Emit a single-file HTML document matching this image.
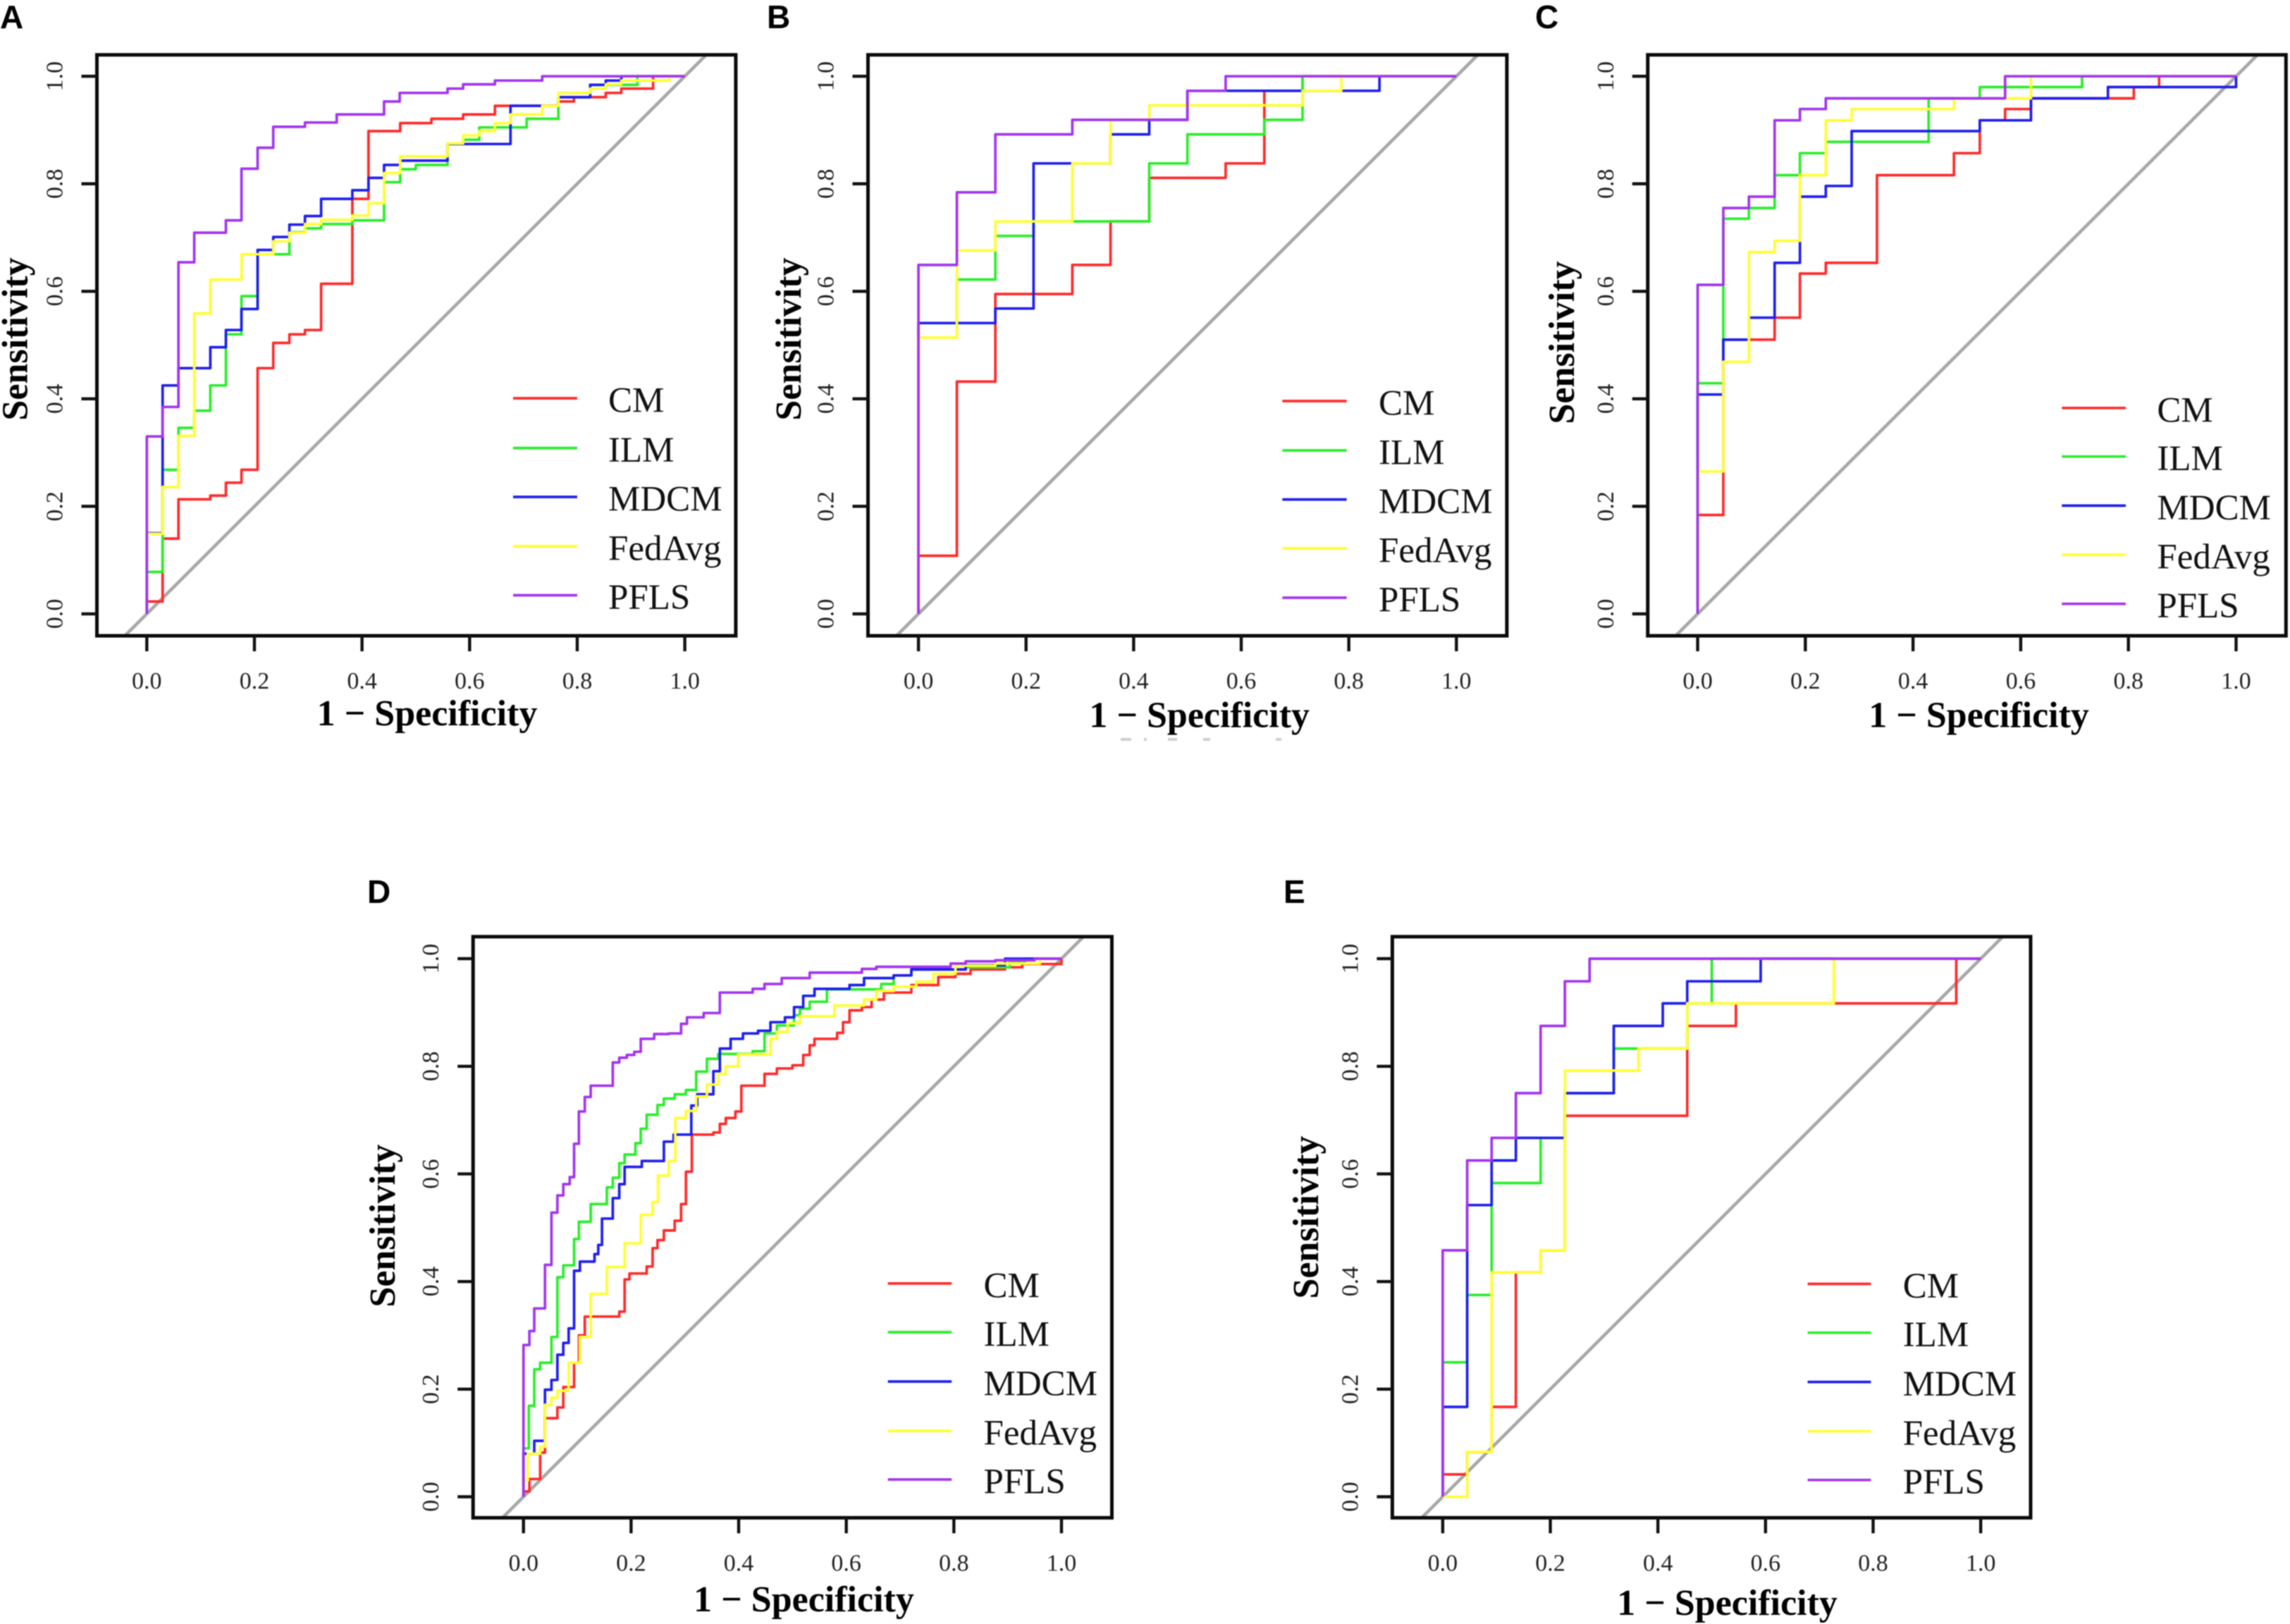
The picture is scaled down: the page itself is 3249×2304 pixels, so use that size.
<!DOCTYPE html>
<html lang="en">
<head>
<meta charset="utf-8">
<title>ROC curves for CM, ILM, MDCM, FedAvg and PFLS</title>
<style>
  html, body { margin: 0; padding: 0; background: #fff; }
  #figure { display: block; width: 3249px; height: 2304px; filter: blur(0.8px); }
</style>
</head>
<body>
<svg id="figure" xmlns="http://www.w3.org/2000/svg" width="3249" height="2304" viewBox="0 0 3249 2304"></svg>
<script>
// ---------- shared labels ----------
const seriesNames = ["CM", "ILM", "MDCM", "FedAvg", "PFLS"];
const tickValues = [0, 0.2, 0.4, 0.6, 0.8, 1];
const tickLabels = ["0.0", "0.2", "0.4", "0.6", "0.8", "1.0"];

// ---------- panel A: false positive rate at each rise, sensitivity after the rise ----------
const A_CM_fpr = [0,.0294,.0588,.118,.147,.176,.206,.235,.265,.294,.324,.382,.412,.471,.529,.588,.647,.765,.794,.853,.882,.941];
const A_CM_tpr = [.023,.14,.213,.22,.244,.268,.457,.504,.52,.528,.614,.772,.898,.913,.921,.929,.945,.953,.961,.969,.977,1];
const A_ILM_fpr = [0,.0294,.0588,.0882,.118,.147,.176,.206,.265,.294,.324,.382,.441,.471,.5,.559,.588,.618,.706,.765,.824,.912];
const A_ILM_tpr = [.078,.268,.346,.378,.425,.52,.591,.669,.71,.717,.725,.732,.803,.827,.835,.874,.882,.905,.921,.961,.984,1];
const A_MDCM_fpr = [0,.0294,.0588,.118,.147,.176,.206,.235,.265,.294,.324,.382,.412,.441,.471,.559,.676,.765,.824,.853,.882];
const A_MDCM_tpr = [.15,.425,.457,.496,.528,.567,.677,.701,.724,.74,.772,.788,.811,.835,.843,.874,.945,.961,.984,.992,1];
const A_FedAvg_fpr = [0,.0294,.0588,.0882,.118,.176,.235,.265,.294,.324,.382,.412,.441,.471,.559,.588,.618,.647,.676,.735,.765,.824,.853,.882,.971];
const A_FedAvg_tpr = [.149,.236,.331,.559,.622,.669,.693,.709,.725,.733,.741,.764,.82,.851,.875,.89,.898,.913,.929,.945,.969,.977,.985,.992,1];
const A_PFLS_fpr = [0,.0294,.0588,.0882,.147,.176,.206,.235,.294,.353,.441,.47,.559,.588,.647,.735];
const A_PFLS_tpr = [.33,.385,.654,.709,.732,.828,.867,.906,.914,.929,.953,.969,.977,.985,.992,1];

// ---------- panel B ----------
const B_CM_fpr = [0,.0714,.143,.286,.357,.429,.571,.643,.714];
const B_CM_tpr = [.108,.432,.595,.649,.73,.811,.838,.973,1];
const B_ILM_fpr = [0,.0714,.143,.214,.429,.5,.643,.714];
const B_ILM_tpr = [.541,.622,.703,.73,.838,.892,.919,1];
const B_MDCM_fpr = [0,.143,.214,.357,.429,.5,.857];
const B_MDCM_tpr = [.541,.568,.838,.892,.919,.973,1];
const B_FedAvg_fpr = [0,.0714,.143,.286,.357,.429,.714,.786];
const B_FedAvg_tpr = [.514,.676,.73,.838,.919,.946,.973,1];
const B_PFLS_fpr = [0,.0714,.143,.286,.5,.571];
const B_PFLS_tpr = [.649,.784,.892,.919,.973,1];

// ---------- panel C ----------
const C_CM_fpr = [0,.0476,.143,.19,.238,.333,.476,.524,.571,.619,.81,.857];
const C_CM_tpr = [.184,.51,.551,.633,.653,.816,.857,.918,.939,.959,.98,1];
const C_ILM_fpr = [0,.0476,.0952,.143,.19,.238,.429,.524,.714];
const C_ILM_tpr = [.429,.735,.755,.816,.857,.878,.959,.98,1];
const C_MDCM_fpr = [0,.0476,.0952,.143,.19,.238,.286,.524,.619,.762,1];
const C_MDCM_tpr = [.408,.51,.551,.653,.776,.796,.898,.918,.959,.98,1];
const C_FedAvg_fpr = [0,.0476,.0952,.143,.19,.238,.286,.476,.619];
const C_FedAvg_tpr = [.265,.469,.673,.694,.816,.918,.939,.959,1];
const C_PFLS_fpr = [0,.0476,.0952,.143,.19,.238,.571];
const C_PFLS_tpr = [.612,.755,.776,.918,.939,.959,1];

// ---------- panel D ----------
const D_CM_fpr = [0,.011,.031,.04,.063,.074,.094,.103,.114,.178,.188,.197,.229,.24,.249,.261,.281,.293,.302,.313,.353,.365,.376,.394,.405,.448,.471,.5,.52,.532,.541,.583,.594,.606,.629,.647,.67,.721,.771,.803,.831,.895,.927,1];
const D_CM_tpr = [.01,.033,.082,.146,.166,.204,.249,.3,.335,.344,.404,.415,.428,.462,.477,.495,.513,.544,.604,.673,.677,.693,.704,.716,.764,.786,.796,.802,.821,.839,.851,.862,.882,.904,.91,.924,.937,.951,.966,.972,.98,.984,.99,1];
const D_ILM_fpr = [0,.01,.02,.031,.052,.063,.074,.094,.103,.125,.155,.166,.178,.188,.208,.218,.229,.249,.261,.281,.302,.321,.341,.362,.426,.448,.471,.503,.514,.532,.564,.665,.688,.721,.822,.904,.932];
const D_ILM_tpr = [.09,.169,.237,.249,.297,.408,.43,.479,.511,.544,.575,.593,.62,.636,.657,.684,.71,.728,.74,.748,.756,.79,.814,.823,.828,.861,.876,.895,.907,.92,.943,.953,.969,.98,.984,.993,1];
const D_MDCM_fpr = [0,.02,.04,.052,.063,.074,.084,.094,.105,.132,.139,.146,.166,.178,.188,.22,.261,.279,.312,.323,.353,.365,.385,.408,.436,.459,.486,.503,.52,.541,.606,.633,.688,.721,.822,.895];
const D_MDCM_tpr = [.08,.104,.199,.217,.264,.286,.313,.42,.437,.451,.468,.517,.555,.581,.613,.624,.66,.673,.727,.748,.791,.833,.851,.861,.866,.882,.891,.91,.931,.944,.951,.964,.969,.98,.988,1];
const D_FedAvg_fpr = [0,.008,.031,.04,.052,.063,.084,.105,.125,.155,.188,.218,.24,.25,.27,.282,.302,.321,.341,.362,.376,.399,.459,.471,.491,.514,.578,.633,.656,.688,.73,.762,.803,.877,.96];
const D_FedAvg_tpr = [.03,.08,.093,.171,.184,.197,.249,.297,.377,.427,.471,.524,.548,.597,.624,.704,.717,.744,.766,.786,.8,.822,.851,.864,.88,.893,.913,.924,.94,.948,.957,.972,.987,.991,1];
const D_PFLS_fpr = [0,.011,.02,.04,.052,.063,.074,.086,.094,.103,.114,.125,.166,.178,.192,.206,.218,.243,.27,.293,.304,.335,.365,.426,.448,.48,.532,.629,.656,.794,.822,.877,.95];
const D_PFLS_tpr = [.282,.308,.35,.431,.528,.56,.581,.594,.656,.716,.743,.764,.807,.816,.821,.827,.851,.86,.861,.879,.891,.899,.937,.944,.953,.964,.974,.981,.985,.991,.995,.997,1];

// ---------- panel E ----------
const E_CM_fpr = [0,.0455,.0909,.136,.182,.227,.4545,.545,.9545];
const E_CM_tpr = [.0417,.0833,.167,.417,.458,.708,.875,.917,1];
const E_ILM_fpr = [0,.0455,.0909,.182,.227,.318,.4545,.5];
const E_ILM_tpr = [.25,.375,.583,.667,.75,.833,.917,1];
const E_MDCM_fpr = [0,.0455,.0909,.136,.227,.318,.409,.4545,.591];
const E_MDCM_tpr = [.167,.542,.625,.667,.75,.875,.917,.958,1];
const E_FedAvg_fpr = [0,.0455,.0909,.182,.227,.364,.4545,.727];
const E_FedAvg_tpr = [0,.0833,.417,.458,.792,.833,.917,1];
const E_PFLS_fpr = [0,.0455,.0909,.136,.182,.227,.273];
const E_PFLS_tpr = [.458,.625,.667,.75,.875,.958,1];

const curveData = {
  A: [[A_CM_fpr,A_CM_tpr],[A_ILM_fpr,A_ILM_tpr],[A_MDCM_fpr,A_MDCM_tpr],[A_FedAvg_fpr,A_FedAvg_tpr],[A_PFLS_fpr,A_PFLS_tpr]],
  B: [[B_CM_fpr,B_CM_tpr],[B_ILM_fpr,B_ILM_tpr],[B_MDCM_fpr,B_MDCM_tpr],[B_FedAvg_fpr,B_FedAvg_tpr],[B_PFLS_fpr,B_PFLS_tpr]],
  C: [[C_CM_fpr,C_CM_tpr],[C_ILM_fpr,C_ILM_tpr],[C_MDCM_fpr,C_MDCM_tpr],[C_FedAvg_fpr,C_FedAvg_tpr],[C_PFLS_fpr,C_PFLS_tpr]],
  D: [[D_CM_fpr,D_CM_tpr],[D_ILM_fpr,D_ILM_tpr],[D_MDCM_fpr,D_MDCM_tpr],[D_FedAvg_fpr,D_FedAvg_tpr],[D_PFLS_fpr,D_PFLS_tpr]],
  E: [[E_CM_fpr,E_CM_tpr],[E_ILM_fpr,E_ILM_tpr],[E_MDCM_fpr,E_MDCM_tpr],[E_FedAvg_fpr,E_FedAvg_tpr],[E_PFLS_fpr,E_PFLS_tpr]]
};

// ---------- layout and styling ----------
const seriesColors = ["#ff2b2b", "#2bee2b", "#1f1fee", "#ffff33", "#a335f0"];
const panelLayouts = [
  {id:"A", x0:208.3,  x1:971.6,  y0:870.9,  y1:108.2,  L:137.5,  R:1043.9, T:77.8,   B:902,    letterX:0,    letterY:40,   titleX:606,    titleY:1029, sensX:38.3, sensY:481,
   legX0:728,  legX1:819,  legText:863,  legY:[565,635.6,705,775,844.5]},
  {id:"B", x0:1303.1, x1:2066.3, y0:870.9,  y1:108.2,  L:1231.5, R:2137.9, T:77.8,   B:902,    letterX:1088, letterY:40,   titleX:1701.7, titleY:1031.7, sensX:1136, sensY:481,
   legX0:1819.4, legX1:1910.6, legText:1956, legY:[569,639,708.6,778,848]},
  {id:"C", x0:2408.6, x1:3172.5, y0:870.9,  y1:108.2,  L:2337.8, R:3243.3, T:77.8,   B:902,    letterX:2178, letterY:40,   titleX:2807.6, titleY:1031.7, sensX:2233, sensY:486,
   legX0:2925.3, legX1:3016, legText:3060.4, legY:[578.8,647.7,717.4,787,856.7]},
  {id:"D", x0:742.7,  x1:1506,   y0:2123.5, y1:1360.1, L:671.2,  R:1577.5, T:1328.9, B:2153.3, letterX:521,  letterY:1281, titleX:1140.5, titleY:2286, sensX:560,  sensY:1739,
   legX0:1259.7, legX1:1350.2, legText:1395.5, legY:[1820.9,1890,1960,2030,2099]},
  {id:"E", x0:2046.9, x1:2810.2, y0:2123.5, y1:1360.1, L:1975.4, R:2881,   T:1328.9, B:2153.3, letterX:1821, letterY:1281, titleX:2450.6, titleY:2291, sensX:1870, sensY:1727,
   legX0:2564.6, legX1:2654.4, legText:2699.7, legY:[1821.5,1890.7,1960.6,2030.5,2099.7]}
];

const SVG_NS = "http://www.w3.org/2000/svg";
const SERIF = '"Liberation Serif", serif';
const SANS = '"Liberation Sans", sans-serif';
const figure = document.getElementById("figure");

function make(parent, tag, attrs, text) {
  const el = document.createElementNS(SVG_NS, tag);
  for (const k in attrs) el.setAttribute(k, attrs[k]);
  if (text !== undefined) el.textContent = text;
  parent.appendChild(el);
  return el;
}

function drawPanel(p) {
  const xScale = v => p.x0 + (p.x1 - p.x0) * v;
  const yScale = v => p.y0 + (p.y1 - p.y0) * v;

  const panel = make(figure, "g", {});
  
  

  const letter = make(panel, "text", {x:p.letterX, y:p.letterY, "font-family":SANS, "font-weight":"bold", "font-size":46, fill:"#000"}, p.id);
  
  

  const clipId = "clip-" + p.id;
  const defs = make(panel, "defs", {});
  const clip = make(defs, "clipPath", {id:clipId});
  make(clip, "rect", {x:p.L, y:p.T, width:p.R - p.L, height:p.B - p.T});

  const diagonal = make(panel, "line", {x1:xScale(-0.04), y1:yScale(-0.04), x2:xScale(1.04), y2:yScale(1.04), stroke:"#a8a8a8", "stroke-width":4.6, "clip-path":"url(#" + clipId + ")"});
  
  

  curveData[p.id].forEach((pair, s) => {
    const fpr = pair[0];
    const tpr = pair[1];
    let d = "M" + xScale(0).toFixed(1) + " " + yScale(0).toFixed(1);
    for (let i = 0; i < fpr.length; i++) {
      d += "H" + xScale(fpr[i]).toFixed(1) + "V" + yScale(tpr[i]).toFixed(1);
    }
    d += "H" + xScale(1).toFixed(1);
    const curve = make(panel, "path", {d:d, fill:"none", stroke:seriesColors[s], "stroke-width":3.7, "stroke-linejoin":"round"});
    
    
  });

  const box = make(panel, "rect", {x:p.L, y:p.T, width:p.R - p.L, height:p.B - p.T, fill:"none", stroke:"#0a0a0a", "stroke-width":5});
  
  

  tickValues.forEach((v, i) => {
    const xt = xScale(v);
    const yt = yScale(v);
    const xTick = make(panel, "line", {x1:xt, y1:p.B, x2:xt, y2:p.B + 22, stroke:"#111", "stroke-width":4.4});
    
    
    const xLabel = make(panel, "text", {x:xt, y:p.B + 75, "text-anchor":"middle", "font-family":SERIF, "font-size":34, fill:"#222"}, tickLabels[i]);
    
    
    const yTick = make(panel, "line", {x1:p.L - 22, y1:yt, x2:p.L, y2:yt, stroke:"#111", "stroke-width":4.4});
    
    
    const yLx = p.L - 49;
    const yLabel = make(panel, "text", {x:yLx, y:yt, "text-anchor":"middle", "font-family":SERIF, "font-size":34, fill:"#222", transform:"rotate(-90 " + yLx + " " + yt + ")"}, tickLabels[i]);
    
    
  });

  const xTitle = make(panel, "text", {x:p.titleX, y:p.titleY, "text-anchor":"middle", "font-family":SERIF, "font-weight":"bold", "font-size":52, fill:"#000"}, "1 \u2212 Specificity");
  
  
  const yTitle = make(panel, "text", {x:p.sensX, y:p.sensY, "text-anchor":"middle", "font-family":SERIF, "font-weight":"bold", "font-size":52, fill:"#000", transform:"rotate(-90 " + p.sensX + " " + p.sensY + ")"}, "Sensitivity");
  
  

  seriesNames.forEach((name, s) => {
    const ly = p.legY[s];
    const swatch = make(panel, "line", {x1:p.legX0, y1:ly, x2:p.legX1, y2:ly, stroke:seriesColors[s], "stroke-width":3.7});
    
    
    const label = make(panel, "text", {x:p.legText, y:ly + 19.5, "font-family":SERIF, "font-size":51, fill:"#111"}, name);
    
    
  });
}

panelLayouts.forEach(drawPanel);

// Faint cropped-off remnant visible below the x-axis title of panel B
const remnant = make(figure, "path", {d:"M1590 1049h15M1623 1049h4M1657 1049h13M1707 1049h10M1810 1049h8", stroke:"#cfcfcf", "stroke-width":4, fill:"none"});


</script>
</body>
</html>
